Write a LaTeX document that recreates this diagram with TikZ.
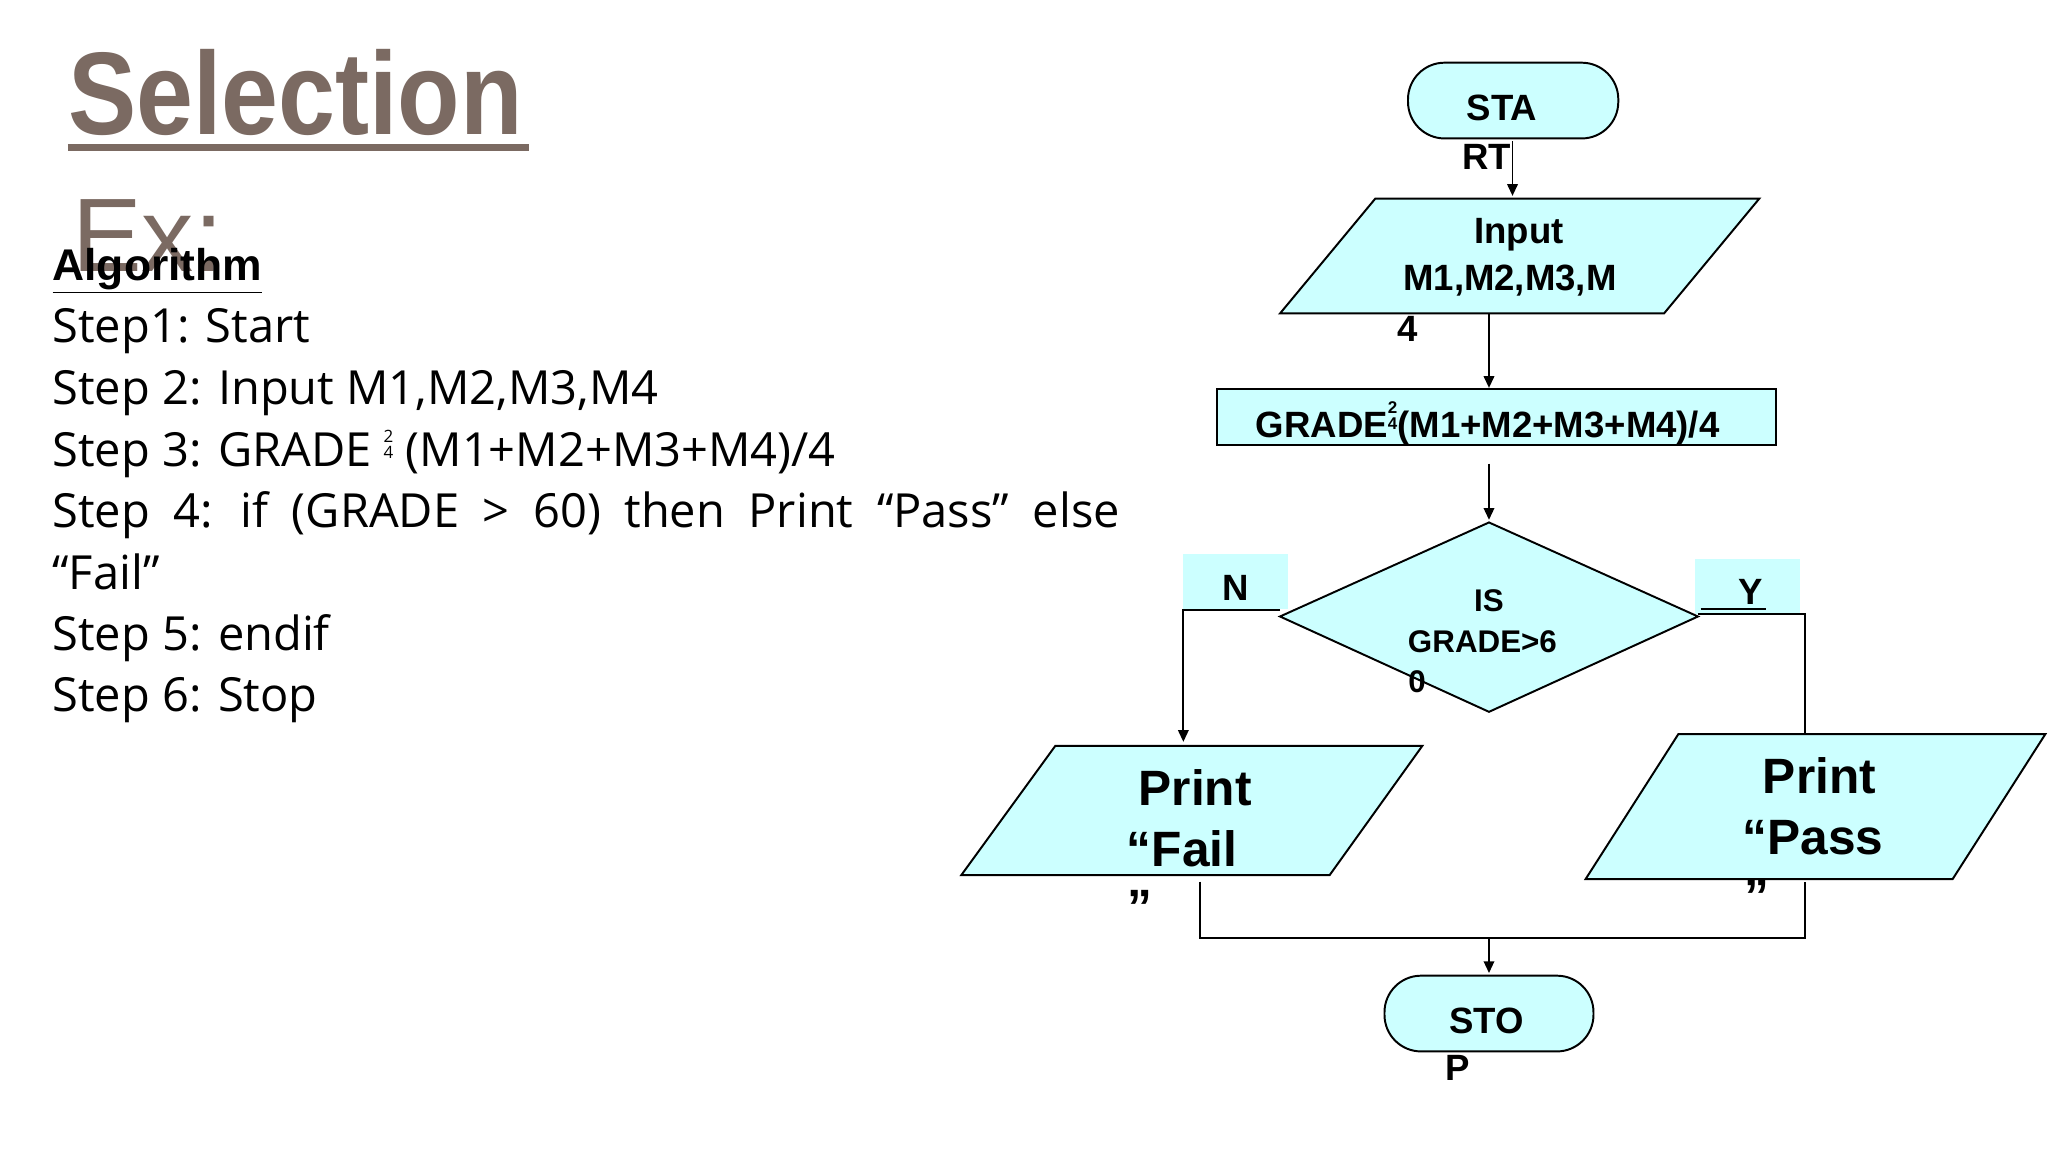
\documentclass[tikz,border=0pt]{standalone}
\usepackage{fontspec}
\setmainfont{Open Sans}
\newfontfamily\arialf{Liberation Sans}
\usetikzlibrary{arrows.meta}
\definecolor{boxc}{HTML}{CCFFFF}
\definecolor{titlec}{HTML}{7B6A62}
\tikzset{
  shp/.style={draw=black, line width=1.5pt, fill=boxc},
  con/.style={line width=1.5pt},
  arr/.style={con, -{Triangle[length=9pt,width=8pt]}},
  ft/.style={font=\arialf\bfseries\fontsize{28}{30}\selectfont, inner sep=0pt},
  fb/.style={font=\arialf\bfseries\fontsize{38}{40}\selectfont, inner sep=0pt},
  st/.style={font=\fontsize{36}{40}\selectfont, anchor=base west, inner sep=0pt}
}
\newcommand{\frc}{{\fontsize{13}{13}\selectfont\raisebox{0.9ex}{\shortstack{2\\4}}}}
\begin{document}
\begin{tikzpicture}[x=1pt,y=-1pt]
\useasboundingbox[fill=white] (0,0) rectangle (1568,882);
% left text
\node[anchor=base west, inner sep=0pt, text=titlec, xscale=0.87, font=\arialf\bfseries\fontsize{90}{90}\selectfont] (t1) at (52,103) {Selection};
\draw[titlec, line width=5pt] (52,113) -- (405,113);
\node[anchor=base west, inner sep=0pt, text=titlec, font=\arialf\fontsize{80}{80}\selectfont] (t2) at (55,208) {Ex:};
\node[st, font=\arialf\bfseries\fontsize{34}{36}\selectfont] (alg) at (40,215) {\underline{Algorithm}};
\node[st] (s1) at (40,262) {Step1: Start};
\node[st] (s2) at (40,310) {Step 2: Input M1,M2,M3,M4};
\node[st] (s3) at (40,357) {Step 3: GRADE \frc\ (M1+M2+M3+M4)/4};
\node[st] (s4) at (40,404) {\spaceskip=0.5em Step 4: if (GRADE > 60) then Print “Pass” else};
\node[st] (s4b) at (40,451) {“Fail”};
\node[st] (s5) at (40,498) {Step 5: endif};
\node[st] (s6) at (40,545) {Step 6: Stop};
% flowchart shapes
\draw[shp, rounded corners=28pt] (1078,48) rectangle (1239,106);
\coordinate (startb) at (1158,108);
\draw[shp] (980,240) -- (1053,152) -- (1347,152) -- (1274,240) -- cycle;
\coordinate (inT) at (1158,150);
\coordinate (inB) at (1140,240);
\draw[shp] (932,298) rectangle (1360,341);
\coordinate (grT) at (1140,297);
\coordinate (grB) at (1140,355);
\fill[boxc] (906,424) rectangle (986,466);
\fill[boxc] (1298,428) rectangle (1378,470);
\draw[shp] (980,472) -- (1140,400) -- (1300,472) -- (1140,545) -- cycle;
\coordinate (diT) at (1140,398);
\draw[shp] (736,670) -- (808,571) -- (1089,571) -- (1018,670) -- cycle;
\draw[shp] (1214,673) -- (1285,562) -- (1566,562) -- (1495,673) -- cycle;
\draw[shp, rounded corners=28pt] (1060,747) rectangle (1220,805);
% texts
\node[ft] (a1) at (1150,83) {STA};
\node[ft] (a2) at (1138,120) {RT};
\node[ft] (b1) at (1163,180) {Input};
\node[ft] (b2) at (1156,215) {M1,M2,M3,M};
\node[ft] (b3) at (1078,252) {4};
\node[ft] (c1) at (1139,324) {GRADE\frc(M1+M2+M3+M4)/4};
\node[ft, font=\arialf\bfseries\fontsize{24}{26}\selectfont] (d1) at (1140,460) {IS};
\node[ft, font=\arialf\bfseries\fontsize{24}{26}\selectfont] (d2) at (1135,491) {GRADE>6};
\node[ft, font=\arialf\bfseries\fontsize{24}{26}\selectfont] (d3) at (1085,522) {0};
\node[ft] (nl) at (946,450) {N};
\node[ft] (yl) at (1340,453) {Y};
\draw[con] (1302,466) -- (1352,466);
\node[fb] (f1) at (915,603) {Print};
\node[fb] (f2) at (905,650) {“Fail};
\node[fb] (f3) at (873,695) {”};
\node[fb] (p1) at (1393,594) {Print};
\node[fb] (p2) at (1388,641) {“Pass};
\node[fb] (p3) at (1345,686) {”};
\node[ft] (e1) at (1138,782) {STO};
\node[ft] (e2) at (1116,818) {P};
% connectors
\draw[arr] (startb) -- (inT);
\draw[arr] (inB) -- (grT);
\draw[arr] (grB) -- (diT);
\coordinate (dl) at (980,467);
\coordinate (fT) at (906,568);
\draw[arr] (dl) -- (906,467) -- (fT);
\coordinate (dr) at (1300,470);
\coordinate (pT) at (1382,562);
\draw[con] (dr) -- (1382,470) -- (pT);
\coordinate (fB) at (919,675);
\coordinate (pB) at (1382,675);
\coordinate (mj) at (1140,718);
\coordinate (eT) at (1140,745);
\draw[con] (fB) -- (919,718) -- (1382,718) -- (pB);
\draw[arr] (mj) -- (eT);
\end{tikzpicture}
\end{document}
